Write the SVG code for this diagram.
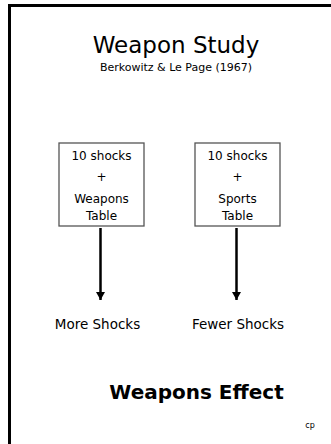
<svg xmlns="http://www.w3.org/2000/svg" width="331" height="444" viewBox="0 0 331 444">
<style>
text{font-family:"DejaVu Sans","Noto Sans",sans-serif;fill:#000;text-anchor:middle}
.box{fill:#fff;stroke:#555;stroke-width:1.3}
.bt{font-size:12px}
.conn{stroke:#000;stroke-width:2.5;fill:none}
</style>
<defs>
<marker id="ah" markerUnits="userSpaceOnUse" markerWidth="9" markerHeight="9" refX="8" refY="4.5" orient="auto">
<path d="M0,0 L8,4.5 L0,9 Z" fill="#000"/>
</marker>
</defs>
<rect width="331" height="444" fill="#fff"/>
<path d="M9.5,450 V5.5 H340" fill="none" stroke="#000" stroke-width="3"/>
<text x="176" y="53" font-size="23">Weapon Study</text>
<text x="176" y="71" font-size="11">Berkowitz &amp; Le Page (1967)</text>
<g id="node-weapons">
<rect class="box" x="59" y="143" width="85" height="83"/>
<text class="bt" x="101.5" y="160">10 shocks</text>
<text class="bt" x="101.5" y="181">+</text>
<text class="bt" x="101.5" y="203">Weapons</text>
<text class="bt" x="101.5" y="220">Table</text>
</g>
<g id="node-sports">
<rect class="box" x="195" y="143" width="85" height="83"/>
<text class="bt" x="237.5" y="160">10 shocks</text>
<text class="bt" x="237.5" y="181">+</text>
<text class="bt" x="237.5" y="203">Sports</text>
<text class="bt" x="237.5" y="220">Table</text>
</g>
<g id="node-more">
<text x="97.5" y="329" font-size="13.5">More Shocks</text>
</g>
<g id="node-fewer">
<text x="238" y="329" font-size="13.5">Fewer Shocks</text>
</g>
<g id="connectors">
<line class="conn" x1="100.5" y1="228" x2="100.5" y2="300" marker-end="url(#ah)"/>
<line class="conn" x1="236.5" y1="228" x2="236.5" y2="300" marker-end="url(#ah)"/>
</g>
<text x="196.5" y="399" font-size="20" font-weight="bold">Weapons Effect</text>
<text x="310" y="428" font-size="8">cp</text>
</svg>
